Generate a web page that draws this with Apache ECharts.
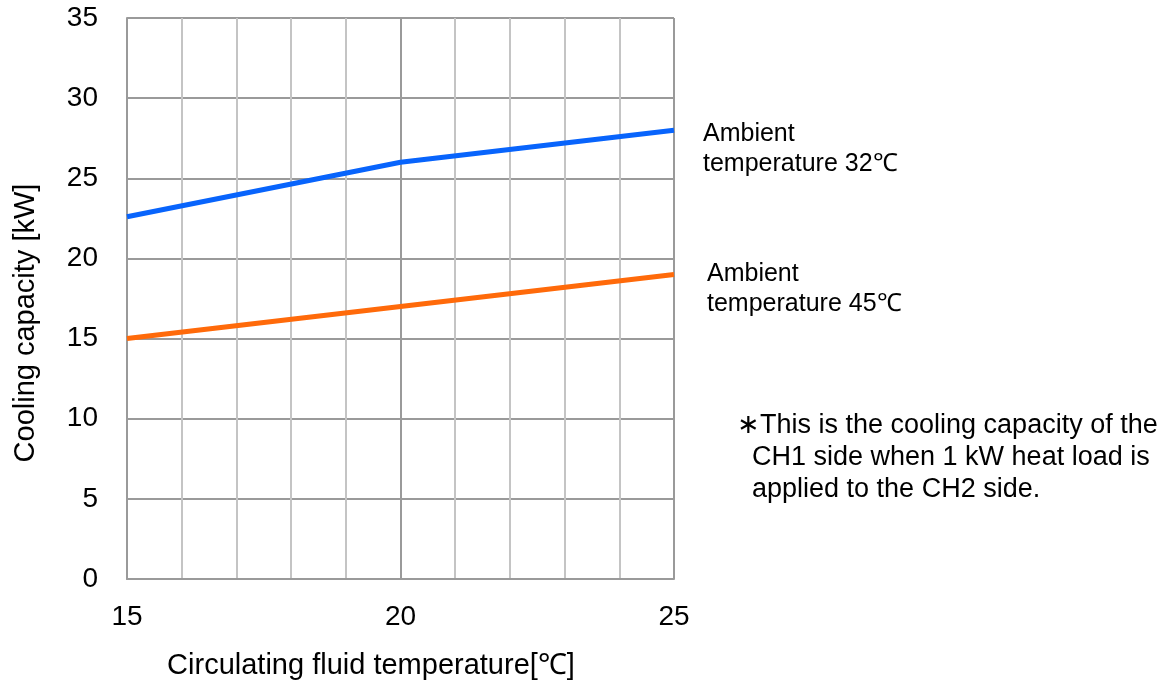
<!DOCTYPE html>
<html>
<head>
<meta charset="utf-8">
<script src="https://cdn.jsdelivr.net/npm/echarts@6/dist/echarts.min.js"></script>
<style>
html,body{margin:0;padding:0;background:#fff;}
#chart{width:1168px;height:684px;}
</style>
</head>
<body>
<div id="chart"></div>
<script>
const xValues = [15, 20, 25];
const amb32 = [22.6, 26.0, 28.0];
const amb45 = [15.0, 17.0, 19.0];
const label32 = 'Ambient\ntemperature 32℃';
const label45 = 'Ambient\ntemperature 45℃';
const noteText = '∗This is the cooling capacity of the\n  CH1 side when 1 kW heat load is\n  applied to the CH2 side.';
const xName = 'Circulating fluid temperature[℃]';
const yName = 'Cooling capacity [kW]';

const FONT = '"Liberation Sans", Arial, sans-serif';
const chart = echarts.init(document.getElementById('chart'));
const pair = (ys) => xValues.map((x, i) => [x, ys[i]]);

chart.setOption({
  animation: false,
  textStyle: { fontFamily: FONT },
  grid: { left: 127, right: 494, top: 18, bottom: 105, containLabel: false, outerBoundsMode: 'none' },
  xAxis: {
    type: 'value', min: 15, max: 25, interval: 5,
    axisLine: { show: true, lineStyle: { color: '#9a9a9a', width: 2 } },
    axisTick: { show: false },
    axisLabel: { fontSize: 28, color: '#000', margin: 24, fontFamily: FONT },
    splitLine: { show: true, lineStyle: { color: '#9a9a9a', width: 2 } },
    minorTick: { show: false, splitNumber: 5 },
    minorSplitLine: { show: true, lineStyle: { color: '#c4c4c4', width: 2 } }
  },
  yAxis: {
    type: 'value', min: 0, max: 35, interval: 5,
    axisLine: { show: true, lineStyle: { color: '#9a9a9a', width: 2 } },
    axisTick: { show: false },
    axisLabel: { fontSize: 28, color: '#000', margin: 29, fontFamily: FONT, padding: [6, 0, 0, 0] },
    splitLine: { show: true, lineStyle: { color: '#9a9a9a', width: 2 } }
  },
  series: [
    {
      type: 'line', data: pair(amb32), symbol: 'none',
      lineStyle: { color: '#0864fc', width: 5 },
      endLabel: { show: true, formatter: label32, fontSize: 25, lineHeight: 30,
        color: '#000', offset: [21, 19], align: 'left', fontFamily: FONT }
    },
    {
      type: 'line', data: pair(amb45), symbol: 'none',
      lineStyle: { color: '#ff6a0a', width: 5 },
      endLabel: { show: true, formatter: label45, fontSize: 25, lineHeight: 30,
        color: '#000', offset: [25, 15], align: 'left', fontFamily: FONT }
    }
  ],
  graphic: [
    {
      type: 'text', left: 737, top: 410,
      style: { text: noteText, fill: '#000', font: '27px ' + FONT, lineHeight: 32 }
    },
    {
      type: 'text', x: 371, y: 666,
      style: { text: xName, fill: '#000', font: '29px ' + FONT, align: 'center', verticalAlign: 'middle' }
    },
    {
      type: 'text', x: 26, y: 323, rotation: Math.PI / 2,
      style: { text: yName, fill: '#000', font: '29px ' + FONT, align: 'center', verticalAlign: 'middle' }
    }
  ]
});
</script>
</body>
</html>
